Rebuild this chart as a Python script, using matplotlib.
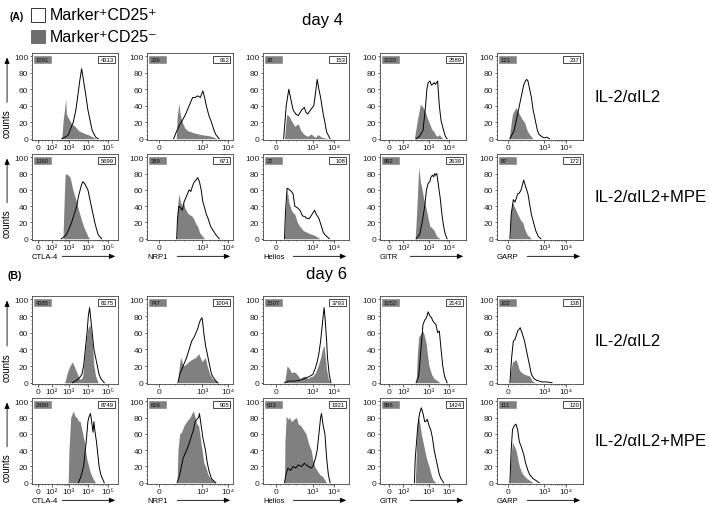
import matplotlib.pyplot as plt
import numpy as np
from matplotlib.ticker import MultipleLocator

plt.rcParams['font.family'] = ['Liberation Sans', 'DejaVu Sans']

# histogram outlines: (x as fraction of axis width, y in % of max)
# day 4, IL-2/aIL2
d4_il2_ctla4_neg = [(0.346,0),(0.36,20),(0.392,48),(0.40,30),(0.423,25),(0.46,18),(0.5,15),(0.54,10),(0.577,8),(0.62,6),(0.654,5),(0.69,3),(0.71,2),(0.75,0)]
d4_il2_ctla4_pos = [(0.346,0),(0.40,3),(0.423,5),(0.46,15),(0.48,20),(0.51,35),(0.53,50),(0.555,70),(0.577,85),(0.60,70),(0.63,50),(0.65,35),(0.67,25),(0.70,10),(0.74,2),(0.77,0)]
d4_il2_nrp1_neg = [(0.34,0),(0.35,25),(0.37,43),(0.385,30),(0.41,20),(0.44,13),(0.47,10),(0.55,7),(0.63,5),(0.70,4),(0.75,3),(0.82,0)]
d4_il2_nrp1_pos = [(0.31,0),(0.34,8),(0.37,15),(0.41,22),(0.45,30),(0.49,40),(0.53,50),(0.56,50),(0.59,52),(0.62,50),(0.65,58),(0.67,50),(0.69,40),(0.72,28),(0.75,20),(0.78,10),(0.80,5),(0.84,0)]
d4_il2_helios_neg = [(0.25,0),(0.27,25),(0.28,30),(0.31,26),(0.33,22),(0.37,15),(0.39,17),(0.41,18),(0.44,10),(0.48,5),(0.52,3),(0.56,6),(0.59,3),(0.61,2),(0.64,5),(0.68,2),(0.72,1),(0.76,0)]
d4_il2_helios_pos = [(0.24,0),(0.27,40),(0.30,60),(0.32,50),(0.35,35),(0.38,30),(0.41,28),(0.45,35),(0.48,38),(0.50,32),(0.52,30),(0.56,36),(0.59,40),(0.61,55),(0.63,72),(0.65,60),(0.67,50),(0.70,30),(0.72,20),(0.74,8),(0.78,0)]
d4_il2_gitr_neg = [(0.40,0),(0.43,20),(0.47,42),(0.50,38),(0.52,35),(0.55,25),(0.57,20),(0.60,12),(0.63,8),(0.65,4),(0.67,3),(0.69,5),(0.73,0)]
d4_il2_gitr_pos = [(0.42,0),(0.46,3),(0.50,10),(0.515,25),(0.53,40),(0.545,60),(0.56,68),(0.58,70),(0.60,65),(0.63,68),(0.645,66),(0.67,70),(0.69,40),(0.71,22),(0.74,10),(0.76,3),(0.78,0)]
d4_il2_garp_neg = [(0.14,0),(0.16,15),(0.18,30),(0.20,34),(0.22,38),(0.24,34),(0.26,30),(0.29,24),(0.32,20),(0.35,10),(0.38,5),(0.42,0)]
d4_il2_garp_pos = [(0.15,0),(0.17,4),(0.20,10),(0.23,25),(0.26,40),(0.29,55),(0.31,65),(0.33,70),(0.345,72),(0.36,70),(0.38,60),(0.40,50),(0.42,35),(0.45,20),(0.47,10),(0.49,5),(0.53,2),(0.55,1),(0.58,2),(0.61,0)]

# day 4, IL-2/aIL2+MPE
d4_mpe_ctla4_neg = [(0.36,0),(0.375,50),(0.385,78),(0.40,80),(0.42,78),(0.44,76),(0.455,70),(0.47,62),(0.49,55),(0.51,48),(0.53,40),(0.55,32),(0.57,25),(0.60,15),(0.62,10),(0.65,3),(0.67,0)]
d4_mpe_ctla4_pos = [(0.34,0),(0.38,3),(0.40,5),(0.43,12),(0.46,20),(0.49,30),(0.52,40),(0.54,52),(0.56,60),(0.575,66),(0.59,70),(0.61,68),(0.63,64),(0.65,60),(0.67,50),(0.69,40),(0.71,30),(0.73,20),(0.75,12),(0.77,5),(0.81,0)]
d4_mpe_nrp1_neg = [(0.345,0),(0.355,40),(0.37,55),(0.39,45),(0.41,40),(0.425,45),(0.44,38),(0.47,32),(0.49,30),(0.52,28),(0.54,25),(0.57,18),(0.59,15),(0.61,8),(0.63,5),(0.67,0)]
d4_mpe_nrp1_pos = [(0.345,0),(0.355,25),(0.37,40),(0.39,38),(0.41,35),(0.43,45),(0.45,50),(0.47,55),(0.49,60),(0.51,58),(0.53,65),(0.55,70),(0.57,72),(0.59,75),(0.61,70),(0.63,60),(0.65,45),(0.67,38),(0.69,30),(0.71,25),(0.74,15),(0.77,10),(0.80,5),(0.84,0)]
d4_mpe_helios_neg = [(0.25,0),(0.26,30),(0.28,60),(0.30,45),(0.33,35),(0.35,32),(0.37,30),(0.40,20),(0.43,15),(0.47,10),(0.51,8),(0.55,6),(0.58,5),(0.62,3),(0.66,0)]
d4_mpe_helios_pos = [(0.25,0),(0.26,30),(0.28,62),(0.31,60),(0.33,58),(0.35,55),(0.37,40),(0.40,38),(0.43,35),(0.46,28),(0.49,27),(0.51,25),(0.54,25),(0.57,30),(0.60,35),(0.62,30),(0.65,25),(0.68,15),(0.70,8),(0.72,5),(0.77,0)]
d4_mpe_gitr_neg = [(0.41,0),(0.43,40),(0.45,88),(0.47,70),(0.49,60),(0.51,48),(0.53,40),(0.55,30),(0.56,25),(0.58,15),(0.60,14),(0.63,10),(0.66,3),(0.70,0)]
d4_mpe_gitr_pos = [(0.42,0),(0.46,5),(0.49,20),(0.52,40),(0.54,60),(0.56,68),(0.58,70),(0.59,75),(0.61,78),(0.625,76),(0.635,80),(0.645,78),(0.66,80),(0.68,65),(0.70,50),(0.72,30),(0.74,15),(0.76,5),(0.78,0)]
d4_mpe_garp_neg = [(0.15,0),(0.16,30),(0.18,45),(0.20,40),(0.22,35),(0.25,28),(0.28,22),(0.30,20),(0.32,12),(0.35,5),(0.40,0)]
d4_mpe_garp_pos = [(0.15,0),(0.165,30),(0.19,48),(0.21,45),(0.24,55),(0.26,56),(0.28,60),(0.31,72),(0.33,65),(0.36,55),(0.38,42),(0.40,30),(0.43,18),(0.45,10),(0.48,3),(0.51,0)]

# day 6, IL-2/aIL2
d6_il2_ctla4_neg = [(0.38,0),(0.40,8),(0.42,15),(0.44,20),(0.47,25),(0.49,20),(0.51,15),(0.53,10),(0.55,5),(0.57,4),(0.59,8),(0.60,20),(0.62,40),(0.635,55),(0.65,65),(0.67,70),(0.69,60),(0.70,50),(0.71,35),(0.72,20),(0.74,8),(0.75,5),(0.77,0)]
d6_il2_ctla4_pos = [(0.47,0),(0.52,3),(0.56,7),(0.58,10),(0.60,20),(0.62,40),(0.64,60),(0.655,80),(0.67,90),(0.68,80),(0.70,60),(0.72,40),(0.74,30),(0.76,20),(0.78,10),(0.80,5),(0.84,0)]
d6_il2_nrp1_neg = [(0.36,0),(0.375,20),(0.39,30),(0.40,28),(0.42,20),(0.45,22),(0.48,25),(0.52,28),(0.56,30),(0.58,32),(0.60,35),(0.62,30),(0.64,25),(0.66,28),(0.68,30),(0.70,20),(0.73,10),(0.76,5),(0.79,3),(0.84,0)]
d6_il2_nrp1_pos = [(0.36,0),(0.38,10),(0.42,20),(0.46,30),(0.49,40),(0.52,50),(0.55,55),(0.57,60),(0.59,65),(0.61,72),(0.62,75),(0.64,78),(0.65,70),(0.66,60),(0.68,45),(0.71,30),(0.73,20),(0.75,10),(0.78,5),(0.82,0)]
d6_il2_helios_neg = [(0.25,0),(0.265,10),(0.28,20),(0.30,18),(0.33,12),(0.36,13),(0.38,12),(0.41,8),(0.43,5),(0.46,7),(0.49,8),(0.52,5),(0.55,7),(0.58,8),(0.61,12),(0.64,20),(0.67,30),(0.69,40),(0.71,45),(0.72,35),(0.74,15),(0.76,5),(0.78,0)]
d6_il2_helios_pos = [(0.25,0),(0.30,2),(0.37,2),(0.43,3),(0.48,5),(0.53,7),(0.58,10),(0.61,18),(0.63,25),(0.65,35),(0.67,50),(0.68,60),(0.70,80),(0.71,90),(0.72,80),(0.74,50),(0.75,30),(0.77,10),(0.79,0)]
d6_il2_gitr_neg = [(0.42,0),(0.435,35),(0.45,55),(0.47,58),(0.50,62),(0.52,55),(0.54,45),(0.55,35),(0.57,20),(0.60,10),(0.63,5),(0.66,3),(0.70,0)]
d6_il2_gitr_pos = [(0.42,0),(0.45,8),(0.46,20),(0.48,45),(0.50,70),(0.52,75),(0.54,78),(0.56,85),(0.58,80),(0.60,78),(0.61,75),(0.63,72),(0.65,70),(0.67,60),(0.69,62),(0.71,40),(0.73,20),(0.75,8),(0.78,0)]
d6_il2_garp_neg = [(0.15,0),(0.16,15),(0.18,25),(0.20,26),(0.22,28),(0.24,22),(0.26,15),(0.29,12),(0.32,10),(0.35,9),(0.38,8),(0.41,2),(0.45,0)]
d6_il2_garp_pos = [(0.15,0),(0.17,30),(0.19,50),(0.21,52),(0.24,62),(0.27,66),(0.29,60),(0.32,50),(0.34,40),(0.36,30),(0.38,20),(0.40,10),(0.43,5),(0.46,3),(0.52,1),(0.58,1),(0.64,0)]

# day 6, IL-2/aIL2+MPE
d6_mpe_ctla4_neg = [(0.42,0),(0.43,40),(0.45,80),(0.48,88),(0.50,82),(0.52,80),(0.54,76),(0.56,75),(0.58,65),(0.59,60),(0.61,50),(0.62,40),(0.64,28),(0.66,20),(0.68,12),(0.71,5),(0.74,0)]
d6_mpe_ctla4_pos = [(0.54,0),(0.57,8),(0.60,20),(0.62,40),(0.63,50),(0.65,75),(0.66,80),(0.68,85),(0.70,70),(0.71,62),(0.72,75),(0.73,65),(0.75,50),(0.76,40),(0.78,20),(0.80,10),(0.84,0)]
d6_mpe_nrp1_neg = [(0.35,0),(0.36,40),(0.38,60),(0.40,62),(0.43,70),(0.46,75),(0.48,78),(0.50,80),(0.52,85),(0.54,88),(0.56,80),(0.58,72),(0.60,70),(0.62,55),(0.64,40),(0.66,25),(0.68,20),(0.71,10),(0.74,5),(0.80,0)]
d6_mpe_nrp1_pos = [(0.35,0),(0.38,10),(0.40,20),(0.42,30),(0.44,35),(0.46,40),(0.48,45),(0.51,55),(0.54,65),(0.56,75),(0.58,78),(0.60,80),(0.61,85),(0.63,70),(0.65,55),(0.68,40),(0.70,25),(0.72,15),(0.75,5),(0.80,0)]
d6_mpe_helios_neg = [(0.25,0),(0.255,50),(0.27,82),(0.29,78),(0.31,80),(0.33,75),(0.36,78),(0.39,80),(0.41,72),(0.44,70),(0.47,65),(0.50,60),(0.53,48),(0.56,40),(0.58,28),(0.60,20),(0.63,15),(0.66,10),(0.69,8),(0.71,5),(0.74,0)]
d6_mpe_helios_pos = [(0.25,0),(0.27,12),(0.29,18),(0.32,15),(0.35,20),(0.38,18),(0.41,22),(0.45,20),(0.48,24),(0.50,22),(0.53,20),(0.56,18),(0.58,20),(0.61,30),(0.63,40),(0.65,60),(0.67,80),(0.68,85),(0.70,70),(0.72,60),(0.74,30),(0.76,10),(0.78,0)]
d6_mpe_gitr_neg = [(0.41,0),(0.43,60),(0.44,82),(0.46,75),(0.48,60),(0.50,50),(0.52,40),(0.54,30),(0.57,20),(0.60,8),(0.62,3),(0.65,0)]
d6_mpe_gitr_pos = [(0.40,0),(0.41,30),(0.44,70),(0.46,85),(0.48,92),(0.50,85),(0.52,75),(0.53,75),(0.55,78),(0.57,70),(0.59,65),(0.61,55),(0.63,40),(0.65,30),(0.67,20),(0.69,10),(0.71,5),(0.74,0)]
d6_mpe_garp_neg = [(0.15,0),(0.16,30),(0.18,50),(0.20,45),(0.22,40),(0.24,30),(0.26,20),(0.29,12),(0.32,8),(0.35,5),(0.38,3),(0.42,0)]
d6_mpe_garp_pos = [(0.15,0),(0.165,40),(0.18,65),(0.20,70),(0.22,72),(0.24,65),(0.26,50),(0.28,45),(0.31,35),(0.33,25),(0.36,15),(0.38,10),(0.42,5),(0.45,3),(0.49,0)]

# numbers in the small boxes (CD25- / CD25+)
d4_il2_mfi = [(1091, 4313), (336, 912), (26, 153), (1020, 2589), (121, 237)]
d4_mpe_mfi = [(1360, 5699), (389, 671), (22, 108), (892, 2639), (87, 172)]
d6_il2_mfi = [(4385, 8175), (747, 1004), (1507, 3793), (1052, 2143), (102, 138)]
d6_mpe_mfi = [(2490, 8749), (616, 905), (633, 1921), (886, 1424), (111, 120)]

markers = ['CTLA-4', 'NRP1', 'Helios', 'GITR', 'GARP']
tick_pos = [[0.07, 0.23, 0.43, 0.65, 0.88], [0.14, 0.64, 0.94], [0.15, 0.58, 0.83],
            [0.10, 0.27, 0.57, 0.80], [0.13, 0.55, 0.80]]
tick_lab = [['0', '10²', '10³', '10⁴', '10⁵'], ['0', '10³', '10⁴'], ['0', '10³', '10⁴'],
            ['0', '10²', '10³', '10⁴'], ['0', '10³', '10⁴']]

rows = [
    ([d4_il2_ctla4_neg, d4_il2_nrp1_neg, d4_il2_helios_neg, d4_il2_gitr_neg, d4_il2_garp_neg],
     [d4_il2_ctla4_pos, d4_il2_nrp1_pos, d4_il2_helios_pos, d4_il2_gitr_pos, d4_il2_garp_pos], d4_il2_mfi),
    ([d4_mpe_ctla4_neg, d4_mpe_nrp1_neg, d4_mpe_helios_neg, d4_mpe_gitr_neg, d4_mpe_garp_neg],
     [d4_mpe_ctla4_pos, d4_mpe_nrp1_pos, d4_mpe_helios_pos, d4_mpe_gitr_pos, d4_mpe_garp_pos], d4_mpe_mfi),
    ([d6_il2_ctla4_neg, d6_il2_nrp1_neg, d6_il2_helios_neg, d6_il2_gitr_neg, d6_il2_garp_neg],
     [d6_il2_ctla4_pos, d6_il2_nrp1_pos, d6_il2_helios_pos, d6_il2_gitr_pos, d6_il2_garp_pos], d6_il2_mfi),
    ([d6_mpe_ctla4_neg, d6_mpe_nrp1_neg, d6_mpe_helios_neg, d6_mpe_gitr_neg, d6_mpe_garp_neg],
     [d6_mpe_ctla4_pos, d6_mpe_nrp1_pos, d6_mpe_helios_pos, d6_mpe_gitr_pos, d6_mpe_garp_pos], d6_mpe_mfi),
]
row_names = ['IL-2/αIL2', 'IL-2/αIL2+MPE', 'IL-2/αIL2', 'IL-2/αIL2+MPE']

W, H = 709, 506
fig = plt.figure(figsize=(W / 100, H / 100), dpi=100)

def px(x, y):
    return x / W, 1 - y / H

col_x = [32, 147, 263, 380, 497]
row_y = [(54, 141), (155, 241), (297, 385), (399, 485)]
aw = 86
grey = '#808080'
arrow = dict(arrowstyle='-|>,head_length=0.35,head_width=0.15', lw=0.6, color='black')

for r, (negs, poss, mfi) in enumerate(rows):
    top, bot = row_y[r]
    for c in range(5):
        ax = fig.add_axes([col_x[c] / W, 1 - bot / H, aw / W, (bot - top) / H])
        neg = np.array(negs[c])
        pos = np.array(poss[c])
        ax.fill_between(neg[:, 0], neg[:, 1], color=grey, lw=0)
        ax.plot(pos[:, 0], pos[:, 1], color='black', lw=0.7)
        ax.set_xlim(0, 1)
        ax.set_ylim(-1.5, 104)
        ax.set_yticks([0, 20, 40, 60, 80, 100])
        ax.yaxis.set_minor_locator(MultipleLocator(5))
        ax.set_xticks(tick_pos[c])
        ax.set_xticklabels(tick_lab[c])
        tp = tick_pos[c]
        minors = []
        for a, b in zip(tp[1:-1], tp[2:]):
            minors += [a + (b - a) * np.log10(k) for k in range(2, 10)]
        minors += list(np.linspace(0.0, tp[1], 7)[1:-1])
        ax.set_xticks(minors, minor=True)
        ax.tick_params(axis='both', which='major', labelsize=6, length=1.8, width=0.5, pad=1, colors='#222222')
        ax.tick_params(axis='both', which='minor', length=1, width=0.4, colors='#222222')
        for s in ax.spines.values():
            s.set_linewidth(0.6)
            s.set_color('#444444')
        # MFI boxes
        ax.add_patch(plt.Rectangle((0.02, 0.885), 0.20, 0.085, transform=ax.transAxes,
                                   fc=grey, ec=grey, lw=0.4, zorder=3))
        ax.add_patch(plt.Rectangle((0.77, 0.885), 0.20, 0.085, transform=ax.transAxes,
                                   fc='white', ec='black', lw=0.5, zorder=3))
        ax.text(0.04, 0.927, str(mfi[c][0]), transform=ax.transAxes, fontsize=4.2,
                va='center', ha='left', zorder=4, color='#111111')
        ax.text(0.955, 0.927, str(mfi[c][1]), transform=ax.transAxes, fontsize=4.2,
                va='center', ha='right', zorder=4)
        # bottom row of each block gets marker name with arrow
        if r in (1, 3):
            ax.text(0.0, -0.19, markers[c], transform=ax.transAxes, fontsize=5.5,
                    va='center', ha='left')
            ax.annotate('', xy=(1.0, -0.19), xytext=(0.32, -0.19), xycoords='axes fraction',
                        arrowprops=arrow)
        if c == 0:
            ax.text(-0.29, 0.2, 'counts', transform=ax.transAxes, rotation=90, fontsize=7,
                    va='center', ha='center')
            ax.annotate('', xy=(-0.29, 0.98), xytext=(-0.29, 0.4), xycoords='axes fraction',
                        arrowprops=arrow)
    fig.text(595 / W, 1 - (top + bot) / 2 / H, row_names[r], fontsize=12, va='center', ha='left')

# headers and legend
fig.text(*px(10, 17), '(A)', fontsize=7.5, fontweight='bold', va='center', ha='left')
fig.text(*px(8, 276), '(B)', fontsize=7.5, fontweight='bold', va='center', ha='left')
fig.text(*px(322, 20), 'day 4', fontsize=12, va='center', ha='center')
fig.text(*px(326, 275), 'day 6', fontsize=12, va='center', ha='center')
fig.patches.append(plt.Rectangle(px(31, 23), 14 / W, 14 / H, transform=fig.transFigure,
                                 fc='white', ec='#333333', lw=0.7))
fig.patches.append(plt.Rectangle(px(31, 44), 14 / W, 13 / H, transform=fig.transFigure,
                                 fc='#6e6e6e', ec='#6e6e6e', lw=0.7))
fig.text(*px(50, 16), 'Marker⁺CD25⁺', fontsize=11.5, va='center', ha='left')
fig.text(*px(50, 38), 'Marker⁺CD25⁻', fontsize=11.5, va='center', ha='left')

fig.savefig('out.png', dpi=100)
